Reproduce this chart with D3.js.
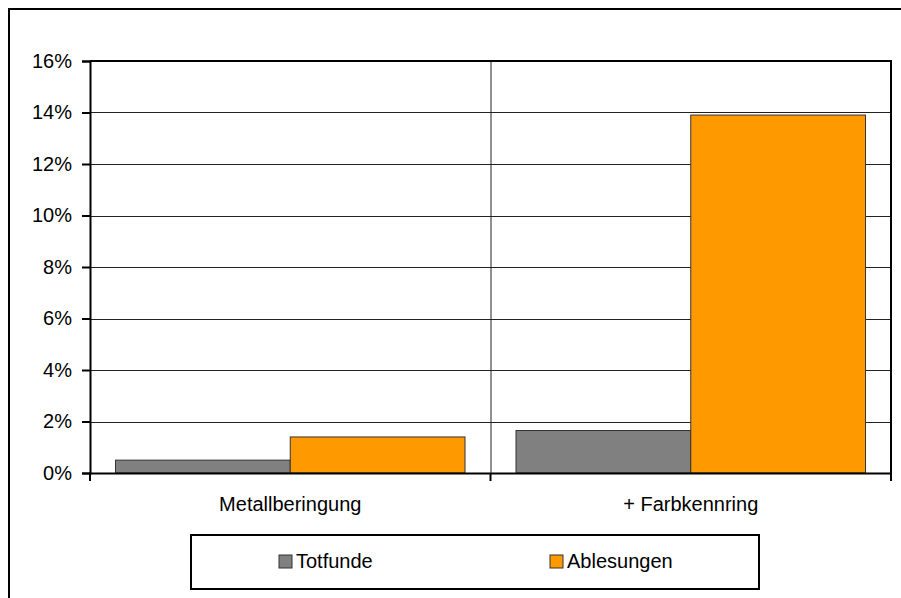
<!DOCTYPE html>
<html>
<head>
<meta charset="utf-8">
<script src="https://cdn.jsdelivr.net/npm/d3@7"></script>
<style>
  body { margin: 0; background: #fff; }
  text { font-family: "Liberation Sans", Arial, sans-serif; }
</style>
</head>
<body>
<div id="chart"></div>
<script>
const categories = ["Metallberingung", "+ Farbkennring"];
const seriesNames = ["Totfunde", "Ablesungen"];
const totfunde = [0.005, 0.0165];
const ablesungen = [0.014, 0.139];
const yTicks = [0, 0.02, 0.04, 0.06, 0.08, 0.10, 0.12, 0.14, 0.16];

const W = 901, H = 598;
const plot = { left: 90, top: 61, right: 891, bottom: 473 };
const fontSize = 20;

const color = d3.scaleOrdinal()
  .domain(seriesNames)
  .range(["#808080", "#ff9900"]);

const svg = d3.select("#chart")
  .append("svg")
  .attr("width", W)
  .attr("height", H);

// outer chart border (runs off the right and bottom edge)
svg.append("rect")
  .attr("x", 9).attr("y", 9)
  .attr("width", 900).attr("height", 600)
  .attr("fill", "#fff")
  .attr("stroke", "#000")
  .attr("stroke-width", 2);

const x0 = d3.scaleBand()
  .domain(categories)
  .range([plot.left, plot.right])
  .padding(0);

const x1 = d3.scaleBand()
  .domain(seriesNames)
  .range([25.5, x0.bandwidth() - 25.5])
  .padding(0);

const y = d3.scaleLinear()
  .domain([0, 0.16])
  .range([plot.bottom, plot.top]);

// gridlines
svg.append("g")
  .selectAll("line")
  .data(yTicks.slice(1))
  .join("line")
  .attr("x1", plot.left).attr("x2", plot.right)
  .attr("y1", d => Math.round(y(d)) + 0.5)
  .attr("y2", d => Math.round(y(d)) + 0.5)
  .attr("stroke", "#222")
  .attr("stroke-width", 1);

// category separator
svg.append("line")
  .attr("x1", x0(categories[1]) + 0.5).attr("x2", x0(categories[1]) + 0.5)
  .attr("y1", plot.top).attr("y2", plot.bottom)
  .attr("stroke", "#222");

const rows = categories.map((c, i) => ({ cat: c, values: [
  { name: seriesNames[0], v: totfunde[i] },
  { name: seriesNames[1], v: ablesungen[i] }
]}));

svg.append("g")
  .selectAll("g")
  .data(rows)
  .join("g")
  .attr("transform", d => `translate(${x0(d.cat)},0)`)
  .selectAll("rect")
  .data(d => d.values)
  .join("rect")
  .attr("x", d => x1(d.name))
  .attr("y", d => y(d.v))
  .attr("width", x1.bandwidth())
  .attr("height", d => plot.bottom - y(d.v))
  .attr("fill", d => color(d.name))
  .attr("stroke", "#333")
  .attr("stroke-width", 1);

// plot border: top and right
svg.append("path")
  .attr("d", `M${plot.left},${plot.top}H${plot.right}V${plot.bottom}`)
  .attr("fill", "none")
  .attr("stroke", "#000")
  .attr("stroke-width", 2);

// y axis
const yAxis = svg.append("g")
  .attr("transform", `translate(${plot.left},0)`)
  .call(d3.axisLeft(y).tickValues(yTicks).tickFormat(d3.format(".0%")).tickSize(8).tickPadding(10));
yAxis.select(".domain").attr("stroke", "#000").attr("stroke-width", 2);
yAxis.selectAll(".tick line").attr("stroke", "#000").attr("stroke-width", 2);
yAxis.selectAll("text").attr("font-size", fontSize).attr("fill", "#000")
  .style("font-family", "'Liberation Sans', Arial, sans-serif");

// x axis
const xAxis = svg.append("g")
  .attr("transform", `translate(0,${plot.bottom})`)
  .call(d3.axisBottom(x0).tickSize(0).tickPadding(24));
xAxis.select(".domain").attr("stroke", "#000").attr("stroke-width", 2);
xAxis.selectAll("text").attr("font-size", fontSize).attr("fill", "#000")
  .style("font-family", "'Liberation Sans', Arial, sans-serif");

// x tick marks at band boundaries
svg.append("g")
  .selectAll("line")
  .data(categories.map(c => x0(c)).concat([plot.right]))
  .join("line")
  .attr("x1", d => d).attr("x2", d => d)
  .attr("y1", plot.bottom).attr("y2", plot.bottom + 8)
  .attr("stroke", "#000")
  .attr("stroke-width", 2);

// legend
const legend = svg.append("g");
legend.append("rect")
  .attr("x", 191).attr("y", 535)
  .attr("width", 568).attr("height", 54)
  .attr("fill", "#fff")
  .attr("stroke", "#000")
  .attr("stroke-width", 2);

const legendX = [279, 550];
const items = legend.selectAll(".item")
  .data(seriesNames)
  .join("g")
  .attr("class", "item")
  .attr("transform", (d, i) => `translate(${legendX[i]},555)`);
items.append("rect")
  .attr("width", 13).attr("height", 13)
  .attr("fill", d => color(d))
  .attr("stroke", "#333");
items.append("text")
  .attr("x", 17).attr("y", 12.5)
  .attr("font-size", fontSize)
  .text(d => d);
</script>
</body>
</html>
